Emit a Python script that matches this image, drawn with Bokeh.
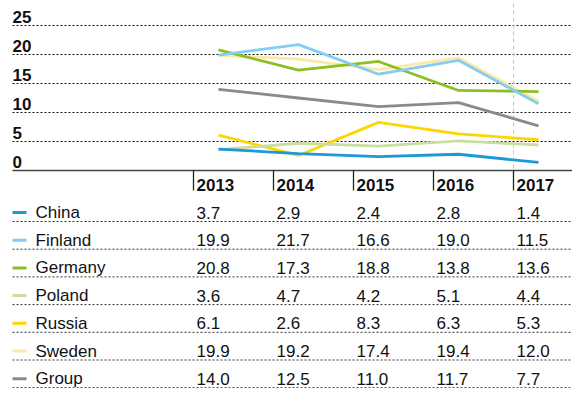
from bokeh.plotting import figure
from bokeh.models import Range1d, ColumnDataSource
from bokeh.core.properties import value
from bokeh.embed import file_html
from bokeh.resources import INLINE

# ---- data ----
years = [2013, 2014, 2015, 2016, 2017]
countries = ["China", "Finland", "Germany", "Poland", "Russia", "Sweden", "Group"]
china = [3.7, 2.9, 2.4, 2.8, 1.4]
finland = [19.9, 21.7, 16.6, 19.0, 11.5]
germany = [20.8, 17.3, 18.8, 13.8, 13.6]
poland = [3.6, 4.7, 4.2, 5.1, 4.4]
russia = [6.1, 2.6, 8.3, 6.3, 5.3]
sweden = [19.9, 19.2, 17.4, 19.4, 12.0]
group = [14.0, 12.5, 11.0, 11.7, 7.7]
y_ticks = [0, 5, 10, 15, 20, 25]
colors = ["#1A9AD6", "#82CDF1", "#8DBE22", "#C9DFA1", "#FFD500", "#FDE8A6", "#8A8A8E"]
series = [china, finland, germany, poland, russia, sweden, group]

# ---- layout constants (pixels) ----
W, H = 572, 388
PX_PER_YEAR = 80.0
X_FIRST = 218.0          # pixel x of first year
PX_PER_UNIT = 5.8
Y_ZERO = 170.0           # pixel y of value 0
FONT = value("Liberation Sans")

x0 = years[0] - X_FIRST / PX_PER_YEAR
x1 = x0 + W / PX_PER_YEAR
y1 = Y_ZERO / PX_PER_UNIT
y0 = (Y_ZERO - H) / PX_PER_UNIT

p = figure(width=W, height=H, x_range=Range1d(x0, x1), y_range=Range1d(y0, y1),
           x_axis_type=None, y_axis_type=None, toolbar_location=None,
           output_backend="svg", min_border=0, outline_line_color=None)
p.background_fill_color = "white"
p.border_fill_color = "white"
p.extra_x_ranges = {"px": Range1d(0, W)}
p.extra_y_ranges = {"px": Range1d(H, 0)}

# grid lines (dotted) and tick labels
grid_vals = [t for t in y_ticks if t > 0]
p.segment(x0=[12] * len(grid_vals), x1=[W] * len(grid_vals), y0=grid_vals, y1=grid_vals,
          x_range_name="px", line_color="#111111", line_width=1, line_dash="2 2")
p.text(x=[12] * len(y_ticks), y=y_ticks, text=[str(t) for t in y_ticks],
       x_range_name="px", text_font=FONT, text_font_size="17px", text_font_style="bold",
       text_color="#111111", text_baseline="middle", text_align="left", y_offset=-9)

# vertical dashed marker at last year
sep_x = [y_ - 25 / PX_PER_YEAR for y_ in years]
p.segment(x0=[sep_x[-1]], x1=[sep_x[-1]], y0=[3], y1=[Y_ZERO], y_range_name="px",
          line_color="#c4c4c4", line_width=1, line_dash="4 3")

# data lines (drawn back to front)
for vals, col in reversed(list(zip(series, colors))):
    p.line(years, vals, line_color=col, line_width=2.8)

# zero baseline
p.segment(x0=[12], x1=[W], y0=[0], y1=[0], x_range_name="px",
          line_color="#444444", line_width=1.5)

# column separators
p.segment(x0=sep_x, x1=sep_x, y0=[Y_ZERO] * len(years), y1=[Y_ZERO + 20] * len(years),
          y_range_name="px", line_color="#222222", line_width=1.3)

# header years
col_x = [y_ - 22 / PX_PER_YEAR for y_ in years]
p.text(x=col_x, y=[184.5] * len(years), text=[str(y_) for y_ in years], y_range_name="px",
       text_font=FONT, text_font_size="17px", text_font_style="bold", text_color="#111111",
       text_baseline="middle", text_align="left")

# table rows
ROW0, ROW_STEP = 212.0, 27.7
row_y = [ROW0 + i * ROW_STEP for i in range(len(countries))]
line_y = [r + 9 for r in row_y]
p.segment(x0=[12] * len(line_y), x1=[W] * len(line_y), y0=line_y, y1=line_y,
          x_range_name="px", y_range_name="px", line_color="#333333", line_width=1,
          line_dash="2 2")
p.segment(x0=[12] * len(row_y), x1=[26] * len(row_y), y0=row_y, y1=row_y,
          x_range_name="px", y_range_name="px", line_color=colors, line_width=3)
p.text(x=[35] * len(row_y), y=row_y, text=countries, x_range_name="px", y_range_name="px",
       text_font=FONT, text_font_size="17px", text_color="#111111",
       text_baseline="middle", text_align="left")

cell_x, cell_y, cell_t = [], [], []
for r, vals in zip(row_y, series):
    for cx, v in zip(col_x, vals):
        cell_x.append(cx)
        cell_y.append(r)
        cell_t.append(f"{v:.1f}")
src = ColumnDataSource(dict(x=cell_x, y=cell_y, t=cell_t))
p.text(x="x", y="y", text="t", source=src, y_range_name="px",
       text_font=FONT, text_font_size="17px", text_color="#111111",
       text_baseline="middle", text_align="left")

open("out.html", "w").write(file_html(p, INLINE))
